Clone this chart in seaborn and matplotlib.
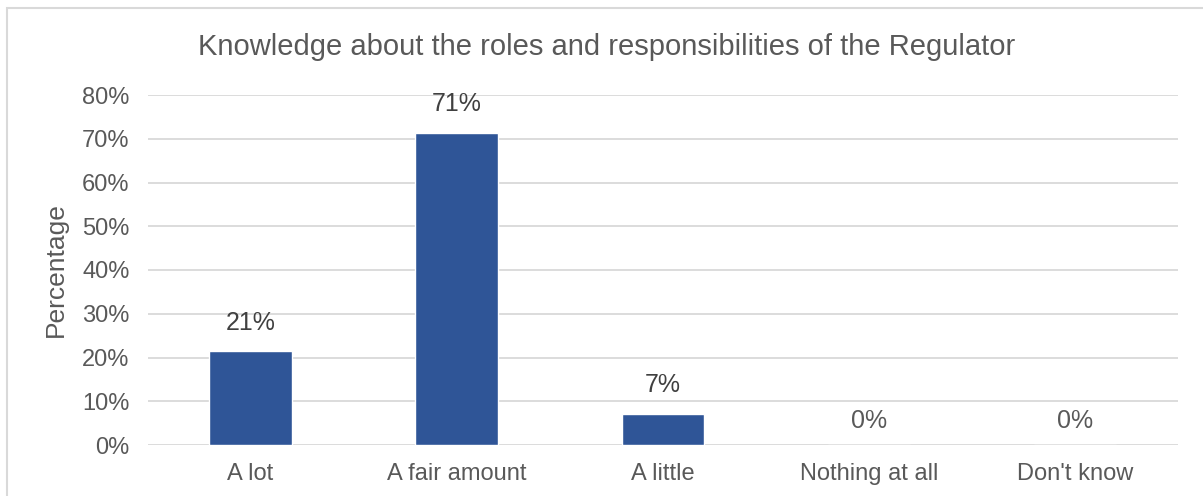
import matplotlib
matplotlib.use("Agg")
import matplotlib.pyplot as plt
import seaborn as sns
import pandas as pd
from matplotlib.patches import Rectangle
from matplotlib.ticker import PercentFormatter

categories = ["A lot", "A fair amount", "A little", "Nothing at all", "Don't know"]
values = [21.4, 71.4, 7.1, 0.0, 0.0]
labels = ["21%", "71%", "7%", "0%", "0%"]
title = "Knowledge about the roles and responsibilities of the Regulator"

sns.set_theme(style="white")
plt.rcParams["font.family"] = ["Liberation Sans", "DejaVu Sans"]

grey = "#595959"
df = pd.DataFrame({"cat": categories, "val": values})

fig = plt.figure(figsize=(12.03, 4.96), dpi=100)
ax = fig.add_axes([147.5/1203, 1-445/496, (1178-147.5)/1203, (445-95)/496])

sns.barplot(data=df, x="cat", y="val", color="#2F5597", width=0.40, ax=ax, saturation=1)

ax.set_ylim(0, 80)
ax.set_yticks(range(0, 81, 10))
ax.yaxis.set_major_formatter(PercentFormatter(decimals=0))
ax.grid(axis="y", color="#D9D9D9", linewidth=1.3)
ax.set_axisbelow(True)
for s in ax.spines.values():
    s.set_visible(False)
ax.tick_params(axis="both", length=0, labelsize=17, colors=grey)
ax.tick_params(axis="x", pad=13)
ax.tick_params(axis="y", pad=13)
ax.set_xlabel("")
ax.set_ylabel("Percentage", fontsize=19, color=grey, labelpad=10)
ax.set_xlim(-0.5, 4.5)

for i, (v, lab) in enumerate(zip(values, labels)):
    off = 12 if v > 0 else 9
    ax.annotate(lab, (i, v), xytext=(0, off), textcoords="offset points",
                ha="center", va="bottom", fontsize=18, color="#404040" if v > 0 else grey)

fig.text(607/1203, 1-47/496, title, ha="center", va="center", fontsize=21, color=grey)

fig.patches.append(Rectangle((7/1203, -0.1), 1.2, 1-8/496+0.1, transform=fig.transFigure,
                             fill=False, edgecolor="#D9D9D9", linewidth=1.5))

fig.savefig("out.png", dpi=100)
